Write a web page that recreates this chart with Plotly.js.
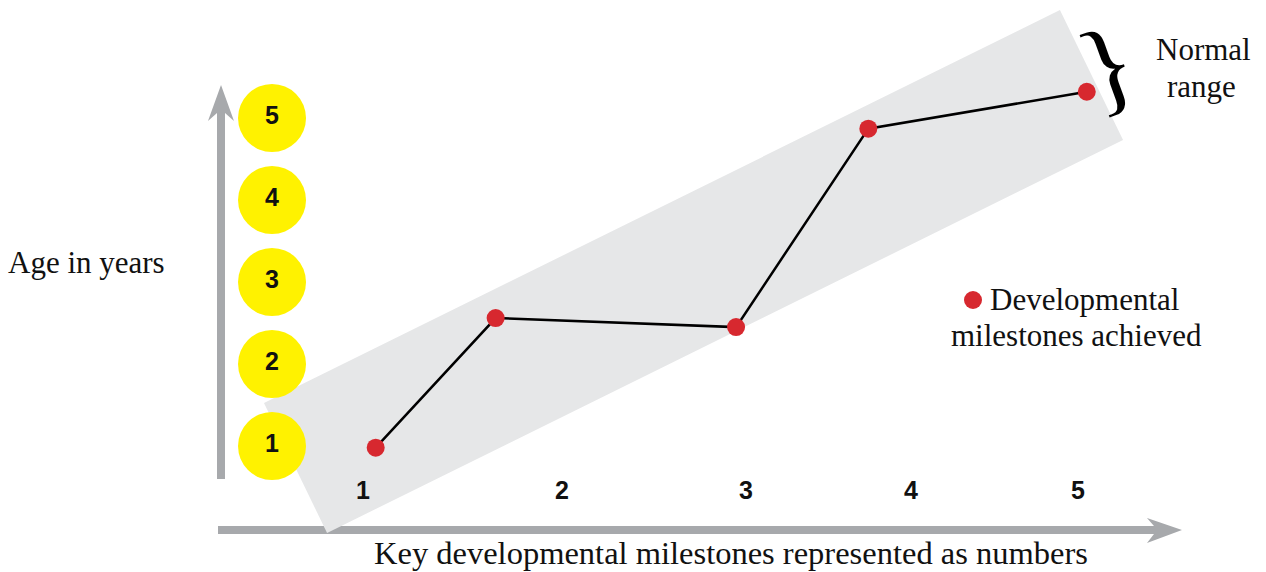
<!DOCTYPE html>
<html>
<head>
<meta charset="utf-8">
<script src="https://cdn.plot.ly/plotly-3.0.1.min.js"></script>
<style>html,body{margin:0;padding:0;background:#fff;}#chart{width:1266px;height:572px;}</style>
</head>
<body>
<div id="chart"></div>
<script>
// ---- data ----
const milestoneLabels = ['1', '2', '3', '4', '5'];
const milestoneLabelX = [1, 2.113, 3.142, 4.065, 5];
const ageLabels = ['1', '2', '3', '4', '5'];
const ageValues = [1, 2, 3, 4, 5];
const pointMilestone = [1.071, 1.742, 3.087, 3.827, 5.049];
const pointAge = [0.98, 2.56, 2.45, 4.87, 5.32];
// normal range band corners (milestone, age)
const bandX = [0.799, 5.252, 4.899, 0.446];
const bandY = [-0.061, 4.732, 6.317, 1.524];

const W = 1266, H = 572;
const xRange = [-1.0308, 6.0517];
const yRange = [-0.5366, 6.439];
const ageColumnX = 0.491;
const tickRowY = 0.427;

const serif = 'Liberation Serif, Times New Roman, serif';
const sans = 'Liberation Sans, Arial, sans-serif';
const grey = '#a7a9ac';
const red = '#d7282f';

function px2x(px) { return px / W; }
function py2y(py) { return 1 - py / H; }
function pt(p) { return px2x(p[0]).toFixed(5) + ',' + py2y(p[1]).toFixed(5); }
function pathPaper(pts) { return 'M' + pts.map(pt).join('L') + 'Z'; }

const bandPath = 'M' + bandX.map((x, i) => x + ',' + bandY[i]).join('L') + 'Z';

const traces = [
  { // yellow age circles
    x: ageValues.map(() => ageColumnX), y: ageValues, text: ageLabels,
    mode: 'markers+text', type: 'scatter', hoverinfo: 'skip',
    marker: { size: 68, color: '#fff200', line: { width: 0 } },
    textposition: 'middle center',
    textfont: { family: sans, size: 25, color: '#111', weight: 700 },
    showlegend: false
  },
  { // milestone tick labels
    x: milestoneLabelX, y: milestoneLabelX.map(() => tickRowY), text: milestoneLabels,
    mode: 'text', type: 'scatter', hoverinfo: 'skip',
    textposition: 'middle center',
    textfont: { family: sans, size: 25, color: '#111', weight: 700 },
    showlegend: false
  },
  { // milestones achieved
    x: pointMilestone, y: pointAge, mode: 'lines+markers', type: 'scatter',
    line: { color: '#000', width: 2.5 },
    marker: { size: 18, color: red },
    showlegend: false
  }
];

const shapes = [
  { type: 'path', xref: 'x', yref: 'y', path: bandPath, fillcolor: '#e6e7e8', line: { width: 0 }, layer: 'below' },
  { type: 'path', xref: 'paper', yref: 'paper', fillcolor: grey, line: { width: 0 }, layer: 'below',
    path: pathPaper([[217, 479], [217, 113], [208, 121], [221, 85], [234, 121], [225, 113], [225, 479]]) },
  { type: 'path', xref: 'paper', yref: 'paper', fillcolor: grey, line: { width: 0 }, layer: 'below',
    path: pathPaper([[218, 526], [1154, 526], [1147, 518], [1182, 530], [1147, 543], [1154, 534], [218, 534]]) },
  // legend dot
  { type: 'circle', xref: 'paper', yref: 'paper', x0: px2x(964), x1: px2x(982), y0: py2y(309), y1: py2y(291),
    fillcolor: red, line: { width: 0 } }
];

const annotations = [
  { xref: 'paper', yref: 'paper', x: px2x(86), y: py2y(262), text: 'Age in years', showarrow: false,
    xanchor: 'center', yanchor: 'middle', font: { family: serif, size: 31, color: '#111' } },
  { xref: 'paper', yref: 'paper', x: px2x(731), y: py2y(553), text: 'Key developmental milestones represented as numbers', showarrow: false,
    xanchor: 'center', yanchor: 'middle', font: { family: serif, size: 32.5, color: '#111' } },
  { xref: 'paper', yref: 'paper', x: px2x(988), y: py2y(299), text: 'Developmental', showarrow: false,
    xanchor: 'left', yanchor: 'middle', font: { family: serif, size: 31, color: '#111' } },
  { xref: 'paper', yref: 'paper', x: px2x(1076), y: py2y(335), text: 'milestones achieved', showarrow: false,
    xanchor: 'center', yanchor: 'middle', font: { family: serif, size: 31, color: '#111' } },
  { xref: 'paper', yref: 'paper', x: px2x(1203), y: py2y(50), text: 'Normal', showarrow: false,
    xanchor: 'center', yanchor: 'middle', font: { family: serif, size: 31, color: '#111' } },
  { xref: 'paper', yref: 'paper', x: px2x(1201), y: py2y(87), text: 'range', showarrow: false,
    xanchor: 'center', yanchor: 'middle', font: { family: serif, size: 31, color: '#111' } },
  { xref: 'paper', yref: 'paper', x: px2x(1107), y: py2y(65), text: '}', showarrow: false, textangle: -20,
    xanchor: 'center', yanchor: 'middle', font: { family: serif, size: 106, color: '#000' } }
];

const layout = {
  width: W, height: H,
  margin: { l: 0, r: 0, t: 0, b: 0, pad: 0 },
  paper_bgcolor: '#fff', plot_bgcolor: 'rgba(0,0,0,0)',
  xaxis: { range: xRange, visible: false, fixedrange: true },
  yaxis: { range: yRange, visible: false, fixedrange: true },
  shapes: shapes, annotations: annotations,
  showlegend: false
};

Plotly.newPlot('chart', traces, layout, { displayModeBar: false, staticPlot: true });
</script>
</body>
</html>
